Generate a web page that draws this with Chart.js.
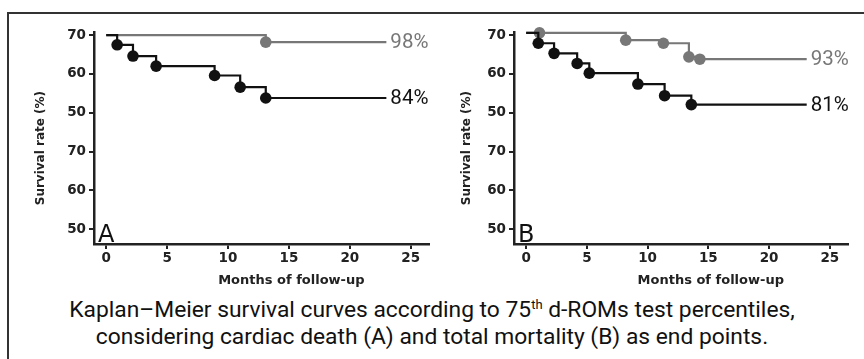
<!DOCTYPE html>
<html>
<head>
<meta charset="utf-8">
<script src="https://cdn.jsdelivr.net/npm/chart.js@4"></script>
<style>
  body { margin: 0; background: #fff; width: 864px; height: 359px; overflow: hidden; position: relative; }
  .frame { position: absolute; left: 7px; top: 12px; width: 870px; height: 360px;
           border-top: 2px solid #333; border-left: 2px solid #333; }
  .panel { position: absolute; top: 20px; height: 275px; }
  #boxA { left: 20px; width: 425px; }
  #boxB { left: 440px; width: 424px; }
  .caption { position: absolute; left: 0; top: 296px; width: 864px; text-align: center;
             font-family: Roboto, sans-serif; font-size: 22.8px; line-height: 27px; color: #111; }
  .caption sup { font-size: 13px; vertical-align: 8px; line-height: 0; }
</style>
</head>
<body>
<div class="frame"></div>
<div class="panel" id="boxA"><canvas id="chartA"></canvas></div>
<div class="panel" id="boxB"><canvas id="chartB"></canvas></div>
<div class="caption">Kaplan–Meier survival curves according to 75<sup>th</sup> d-ROMs test percentiles,<br>considering cardiac death (A) and total mortality (B) as end points.</div>
<script>
// tick values and the (odd) labels printed on the original axis
const xTicks = [0, 5, 10, 15, 20, 25];
const yTickValues = [50, 60, 70, 80, 90, 100];
const yTickLabels = ['50', '60', '70', '50', '60', '70'];

// Panel A - cardiac death (black = above 75th percentile, gray = below)
const aBlackMonths = [0, 0.9, 2.2, 4.1, 8.9, 11.0, 13.1, 23.0];
const aBlackSurv = [100, 97.5, 94.6, 92.0, 89.6, 86.6, 83.8, 83.8];
const aGrayMonths = [0, 13.1, 23.0];
const aGraySurv = [100, 98.2, 98.2];
const aEndLabels = ['84%', '98%'];

// Panel B - total mortality
const bBlackMonths = [0, 1.0, 2.3, 4.2, 5.2, 9.2, 11.4, 13.6, 23.1];
const bBlackSurv = [100.6, 97.9, 95.3, 92.7, 90.2, 87.4, 84.4, 82.1, 82.1];
const bGrayMonths = [0, 1.1, 8.2, 11.3, 13.4, 14.3, 23.1];
const bGraySurv = [100.6, 100.6, 98.7, 97.9, 94.4, 93.8, 93.8];
const bEndLabels = ['81%', '93%'];

const BLACK = '#111111';
const GRAY = '#777777';

const toPoints = (xs, ys) => xs.map((x, i) => ({ x: x, y: ys[i] }));

// end labels, panel letter and axis titles
const panelText = {
  id: 'panelText',
  afterDatasetsDraw(chart, args, opts) {
    const { ctx, chartArea, scales } = chart;
    ctx.save();
    chart.data.datasets.forEach((ds, i) => {
      const pts = chart.getDatasetMeta(i).data;
      const last = pts[pts.length - 1];
      ctx.fillStyle = ds.borderColor;
      ctx.font = '20.5px Roboto';
      ctx.textAlign = 'left';
      ctx.textBaseline = 'middle';
      ctx.fillText(ds.endLabel, last.x + 4, last.y + 1);
    });

    ctx.fillStyle = BLACK;
    ctx.font = '24px "DejaVu Sans"';
    ctx.textBaseline = 'alphabetic';
    ctx.fillText(opts.letter, chartArea.left + 4, chartArea.bottom - 2);

    ctx.fillStyle = '#222';
    ctx.font = 'bold 13px "DejaVu Sans"';
    ctx.textAlign = 'center';
    ctx.textBaseline = 'middle';
    ctx.fillText('Months of follow-up', scales.x.getPixelForValue(15.2), chartArea.bottom + 37);

    ctx.translate(chartArea.left - opts.yTitleGap, scales.y.getPixelForValue(70.9));
    ctx.rotate(-Math.PI / 2);
    ctx.font = 'bold 12px "DejaVu Sans"';
    ctx.fillText('Survival rate (%)', 0, 0);
    ctx.restore();
  }
};

function makeChart(id, series, letter, yTitleGap) {
  const datasets = series.map(s => ({
    data: s.data,
    endLabel: s.label,
    borderColor: s.color,
    backgroundColor: s.color,
    pointBackgroundColor: s.color,
    borderWidth: 2.2,
    stepped: true,
    clip: false,
    pointBorderWidth: 0,
    pointRadius: c => (c.dataIndex === 0 || c.dataIndex === s.data.length - 1) ? 0 : 5.8
  }));

  const axisFont = { family: 'DejaVu Sans', size: 13.5, weight: 'bold' };

  return new Chart(document.getElementById(id), {
    type: 'line',
    data: { datasets: datasets },
    plugins: [panelText],
    options: {
      responsive: true,
      maintainAspectRatio: false,
      animation: false,
      layout: { padding: { top: 12, right: 16, left: 0, bottom: 0 } },
      plugins: {
        legend: { display: false },
        tooltip: { enabled: false },
        panelText: { letter: letter, yTitleGap: yTitleGap }
      },
      scales: {
        x: {
          type: 'linear',
          min: -1,
          max: 26.5,
          afterFit: s => { s.height = 51; },
          afterBuildTicks: s => { s.ticks = xTicks.map(v => ({ value: v })); },
          border: { display: true, color: '#222', width: 2.5 },
          grid: { display: true, drawOnChartArea: false, drawTicks: true, tickLength: 5, color: '#222', lineWidth: 2 },
          ticks: { color: '#222', font: axisFont, padding: 1, maxRotation: 0 }
        },
        y: {
          type: 'linear',
          min: 46.2,
          max: 100.8,
          afterFit: s => { s.width = 74; },
          afterBuildTicks: s => { s.ticks = yTickValues.map(v => ({ value: v })); },
          border: { display: true, color: '#222', width: 2.5 },
          grid: { display: true, drawOnChartArea: false, drawTicks: true, tickLength: 5, color: '#222', lineWidth: 2 },
          ticks: {
            color: '#222',
            font: axisFont,
            padding: 3,
            callback: v => yTickLabels[yTickValues.indexOf(v)]
          }
        }
      }
    }
  });
}

makeChart('chartA', [
  { data: toPoints(aBlackMonths, aBlackSurv), label: aEndLabels[0], color: BLACK },
  { data: toPoints(aGrayMonths, aGraySurv), label: aEndLabels[1], color: GRAY }
], 'A', 53);

makeChart('chartB', [
  { data: toPoints(bBlackMonths, bBlackSurv), label: bEndLabels[0], color: BLACK },
  { data: toPoints(bGrayMonths, bGraySurv), label: bEndLabels[1], color: GRAY }
], 'B', 47);
</script>
</body>
</html>
